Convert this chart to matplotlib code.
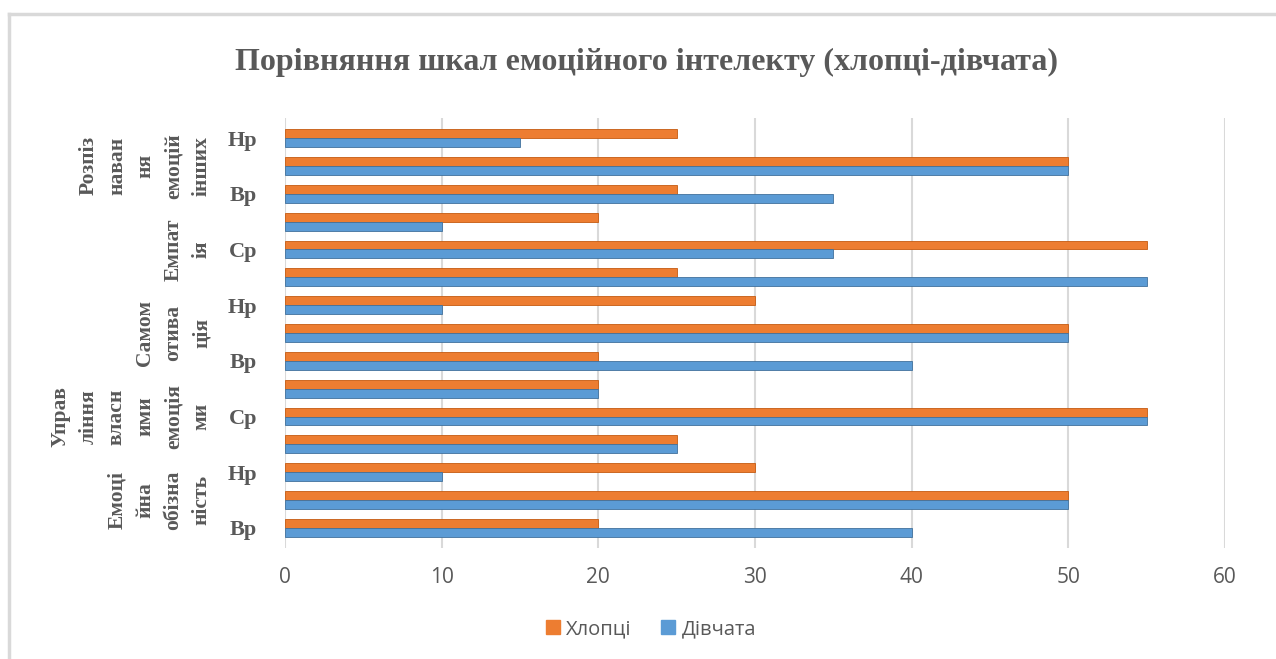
import numpy as np
import matplotlib.pyplot as plt
from matplotlib.lines import Line2D
from matplotlib.patches import Patch

# рівні шкал знизу вгору (по 3 на кожну шкалу)
levels = ["Вр", "Ср", "Нр"] * 5
scales = ["Емоці\nйна\nобізна\nність",
          "Управ\nління\nвласн\nими\nемоція\nми",
          "Самом\nотива\nція",
          "Емпат\nія",
          "Розпіз\nнаван\nня\nемоцій\nінших"]

boys  = [20, 50, 30, 25, 55, 20, 20, 50, 30, 25, 55, 20, 25, 50, 25]
girls = [40, 50, 10, 25, 55, 20, 40, 50, 10, 55, 35, 10, 35, 50, 15]

c_boys = "#ED7D31"
c_girls = "#5B9BD5"
txt = "#595959"

fig = plt.figure(figsize=(12.76, 6.59), dpi=100)
ax = fig.add_axes([285/1276, 1 - 548/659, 940/1276, 430/659])

y = np.arange(len(levels))
h = 0.32
ax.barh(y + h/2, boys, height=h, color=c_boys, edgecolor="#C55A11", linewidth=0.6, zorder=3)
ax.barh(y - h/2, girls, height=h, color=c_girls, edgecolor="#41719C", linewidth=0.6, zorder=3)

ax.set_xlim(0, 60)
ax.set_ylim(-0.72, len(levels) - 0.28)
ax.set_xticks(range(0, 61, 10))
ax.grid(axis="x", color="#d9d9d9", linewidth=1.5, zorder=0)
for s in ax.spines.values():
    s.set_visible(False)

# підписи рівнів — через один рядок
ax.set_yticks(y[::2])
ax.set_yticklabels(levels[::2], family="Liberation Serif", fontweight="bold",
                   fontsize=16, color=txt)
ax.tick_params(axis="y", length=0, pad=20)
ax.tick_params(axis="x", length=0, pad=14, labelsize=15, labelcolor=txt)
for lab in ax.get_xticklabels():
    lab.set_family("Open Sans")

# назви шкал
for i, name in enumerate(scales):
    ax.text(-0.078, 3*i + 1, name, transform=ax.get_yaxis_transform(),
            rotation=90, ha="right", va="center", multialignment="center",
            family="Liberation Serif", fontweight="bold", fontsize=15.5,
            color=txt, linespacing=1.55)

fig.text(0.507, 0.905, "Порівняння шкал емоційного інтелекту (хлопці-дівчата)",
         ha="center", va="center", family="Liberation Serif", fontweight="bold",
         fontsize=23, color=txt)

handles = [Patch(color=c_boys, label="Хлопці"), Patch(color=c_girls, label="Дівчата")]
leg = fig.legend(handles=handles, loc="center", bbox_to_anchor=(0.51, 0.045), ncol=2,
                 frameon=False, handlelength=0.7, handleheight=0.7, handletextpad=0.3,
                 columnspacing=1.5, prop={"family": "Open Sans", "size": 14.5})
for t in leg.get_texts():
    t.set_color(txt)

# рамка діаграми
fig.add_artist(Line2D([9/1276, 1], [1 - 14/659, 1 - 14/659], color="#d9d9d9", linewidth=2.5))
fig.add_artist(Line2D([9/1276, 9/1276], [0, 1 - 14/659], color="#d9d9d9", linewidth=2.5))

fig.savefig("out.png", dpi=100, facecolor="white")
